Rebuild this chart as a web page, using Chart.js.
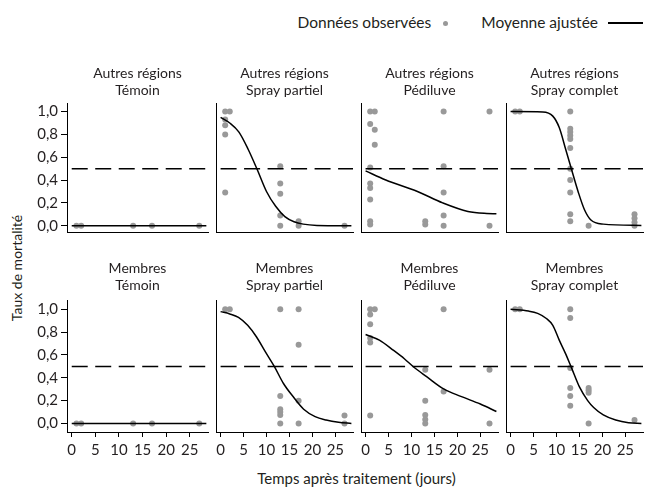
<!DOCTYPE html>
<html lang="fr">
<head>
<meta charset="utf-8">
<title>Taux de mortalité</title>
<script src="https://cdn.jsdelivr.net/npm/chart.js@4.4.1/dist/chart.umd.min.js"></script>
<style>
  html, body { margin: 0; padding: 0; background: #fff; }
  body {
    position: relative;
    width: 646px;
    height: 489px;
    overflow: hidden;
    font-family: Lato, "Open Sans", sans-serif;
    color: #231f20;
  }
  canvas { position: absolute; }
  .legend {
    position: absolute;
    top: 13px;
    right: 3px;
    display: flex;
    align-items: center;
    font-size: 15.5px;
    line-height: 18px;
  }
  .legend .dot { width: 5px; height: 5px; border-radius: 50%; background: #999; margin: 3px 33px 0 12px; }
  .legend .line { width: 35px; height: 1.5px; background: #000; margin: 2px 0 0 10px; }
  .axis-title { position: absolute; line-height: 18px; white-space: nowrap; }
  #xTitle { left: 67px; width: 579px; top: 469px; text-align: center; font-size: 15px; }
  #yTitle { left: 17px; top: 268px; transform: translate(-50%, -50%) rotate(-90deg); font-size: 14px; }
</style>
</head>
<body>
<div class="legend">
  <span>Données observées</span><span class="dot"></span>
  <span>Moyenne ajustée</span><span class="line"></span>
</div>
<div class="axis-title" id="yTitle">Taux de mortalité</div>
<div class="axis-title" id="xTitle">Temps après traitement (jours)</div>

<script>
// Facets
const groups = ['Autres régions', 'Membres'];
const treatments = ['Témoin', 'Spray partiel', 'Pédiluve', 'Spray complet'];

// Tick values
const xTicks = [0, 5, 10, 15, 20, 25];
const yTicks = [0, 0.2, 0.4, 0.6, 0.8, 1.0];
const threshold = 0.5;

// Observed mortality, [day, rate]
const obsAutresTemoin = [[1, 0], [2, 0], [13, 0], [17, 0], [27, 0]];
const obsAutresSprayPartiel = [[1, 1], [2, 1], [1, 0.93], [1, 0.88], [1, 0.8], [1, 0.29],
  [13, 0.52], [13, 0.37], [13, 0.28], [13, 0.09], [13, 0], [17, 0.04], [17, 0], [27, 0]];
const obsAutresPediluve = [[1, 1], [2, 1], [1, 0.89], [2, 0.84], [2, 0.71], [1, 0.51], [1, 0.37],
  [1, 0.33], [1, 0.23], [1, 0.04], [1, 0.01], [13, 0.04], [13, 0.01],
  [17, 1], [17, 0.52], [17, 0.29], [17, 0.09], [17, 0], [27, 1], [27, 0]];
const obsAutresSprayComplet = [[1, 1], [2, 1], [13, 1], [13, 0.85], [13, 0.82], [13, 0.79], [13, 0.76],
  [13, 0.68], [13, 0.5], [13, 0.4], [13, 0.29], [13, 0.1], [13, 0.04], [17, 0],
  [27, 0.1], [27, 0.065], [27, 0.03], [27, 0]];
const obsMembresTemoin = [[1, 0], [2, 0], [13, 0], [17, 0], [27, 0]];
const obsMembresSprayPartiel = [[1, 1], [2, 1], [13, 1], [17, 1], [17, 0.69], [13, 0.24], [13, 0.125],
  [13, 0.1], [13, 0.075], [13, 0], [17, 0.2], [17, 0], [27, 0.07], [27, 0]];
const obsMembresPediluve = [[1, 1], [2, 1], [1, 0.955], [1, 0.87], [1, 0.75], [1, 0.71], [1, 0.07],
  [13, 0.47], [13, 0.2], [13, 0.075], [13, 0.035], [13, 0], [17, 1], [17, 0.28], [27, 0.47], [27, 0]];
const obsMembresSprayComplet = [[1, 1], [2, 1], [13, 1], [13, 0.925], [13, 0.485], [13, 0.31], [13, 0.24],
  [13, 0.155], [17, 0.31], [17, 0.29], [17, 0.27], [17, 0], [27, 0.03]];

// Fitted mean curves, [day, rate]
const fitAutresTemoin = [[0, 0], [28.5, 0]];
const fitAutresSprayPartiel = [[0, 0.95], [2, 0.9], [4, 0.82], [6, 0.67], [8, 0.49], [10, 0.3],
  [12, 0.17], [14, 0.08], [16, 0.035], [18, 0.014], [21, 0.003], [28.5, 0]];
const fitAutresPediluve = [[0, 0.48], [4.4, 0.4], [11.3, 0.3], [16.8, 0.2], [22.3, 0.125],
  [26.4, 0.107], [28.5, 0.105]];
const fitAutresSprayComplet = [[0, 1], [7, 0.997], [9.2, 0.96], [10.6, 0.86], [12, 0.67], [13.3, 0.49],
  [14.7, 0.3], [16.1, 0.14], [17.5, 0.05], [20.2, 0.014], [28.5, 0.003]];
const fitMembresTemoin = [[0, 0], [28.5, 0]];
const fitMembresSprayPartiel = [[0, 0.98], [2, 0.96], [3.9, 0.93], [5.9, 0.86], [7.8, 0.76], [9.8, 0.625],
  [11.7, 0.5], [13.7, 0.35], [15.7, 0.24], [18.1, 0.125], [20.6, 0.06], [23, 0.03], [25.7, 0.01], [28.5, 0]];
const fitMembresPediluve = [[0, 0.78], [3, 0.73], [6.1, 0.64], [8.5, 0.565], [10.6, 0.49], [13.3, 0.41],
  [17.1, 0.3], [20.9, 0.235], [25, 0.17], [28.5, 0.105]];
const fitMembresSprayComplet = [[0, 1], [3.9, 0.985], [5.9, 0.965], [7.8, 0.92], [9.2, 0.86], [10.6, 0.73],
  [12, 0.61], [13.3, 0.485], [15, 0.32], [16.8, 0.2], [18.1, 0.14], [20.2, 0.075], [22.9, 0.03],
  [25.7, 0.006], [28.5, 0]];

const observed = [
  [obsAutresTemoin, obsAutresSprayPartiel, obsAutresPediluve, obsAutresSprayComplet],
  [obsMembresTemoin, obsMembresSprayPartiel, obsMembresPediluve, obsMembresSprayComplet]
];
const fitted = [
  [fitAutresTemoin, fitAutresSprayPartiel, fitAutresPediluve, fitAutresSprayComplet],
  [fitMembresTemoin, fitMembresSprayPartiel, fitMembresPediluve, fitMembresSprayComplet]
];

// Layout
const FONT = 'Lato, "Open Sans", sans-serif';
const TEXT = '#231f20';
const X_MIN = -1, X_MAX = 28.85, Y_MAX = 1.075;
const AREA_LEFTS = [67, 212, 357, 502];
const AREA_W = 145, AXIS_W = 37;
const rowLayout = [
  { top: 65, height: 177, yMin: -0.055, titleGap: 4.4, xAxisH: 10 },
  { top: 260, height: 202, yMin: -0.075, titleGap: 7.2, xAxisH: 30 }
];

const toPoints = arr => arr.map(([x, y]) => ({ x, y }));

function makePanel(row, col) {
  const lay = rowLayout[row];
  const firstCol = col === 0;
  const bottomRow = row === groups.length - 1;

  const canvas = document.createElement('canvas');
  canvas.width = AREA_W + (firstCol ? AXIS_W : 0);
  canvas.height = lay.height;
  canvas.style.left = (AREA_LEFTS[col] - (firstCol ? AXIS_W : 0)) + 'px';
  canvas.style.top = lay.top + 'px';
  document.body.appendChild(canvas);

  new Chart(canvas, {
    type: 'scatter',
    data: {
      datasets: [
        {
          label: 'Moyenne ajustée',
          type: 'line',
          data: toPoints(fitted[row][col]),
          borderColor: '#000',
          borderWidth: 1.5,
          pointRadius: 0,
          cubicInterpolationMode: 'monotone'
        },
        {
          label: 'Seuil',
          type: 'line',
          data: [{ x: 0, y: threshold }, { x: X_MAX, y: threshold }],
          borderColor: '#000',
          borderWidth: 1.5,
          borderDash: [16, 7.5],
          pointRadius: 0
        },
        {
          label: 'Données observées',
          data: toPoints(observed[row][col]),
          backgroundColor: '#999',
          borderWidth: 0,
          pointRadius: 3
        }
      ]
    },
    options: {
      responsive: false,
      animation: false,
      events: [],
      layout: { padding: 0 },
      plugins: {
        legend: { display: false },
        tooltip: { enabled: false },
        title: {
          display: true,
          text: [groups[row], treatments[col]],
          fullSize: false,
          color: TEXT,
          font: { family: FONT, size: 14, weight: 'normal', lineHeight: 1.2 },
          padding: { top: 0, bottom: lay.titleGap }
        }
      },
      scales: {
        x: {
          type: 'linear',
          min: X_MIN,
          max: X_MAX,
          afterBuildTicks: s => { s.ticks = xTicks.map(v => ({ value: v })); },
          afterFit: s => {
            s.height = lay.xAxisH;
            s.paddingLeft = s.paddingRight = 0;
          },
          border: { display: true, color: '#000', width: 1 },
          grid: { display: bottomRow, drawOnChartArea: false, drawTicks: true, tickLength: 5, color: '#000' },
          ticks: {
            display: bottomRow, padding: 4, color: TEXT, maxRotation: 0, autoSkip: false,
            font: { family: FONT, size: 15 }
          }
        },
        y: {
          min: lay.yMin,
          max: Y_MAX,
          afterBuildTicks: s => { s.ticks = yTicks.map(v => ({ value: v })); },
          afterFit: s => {
            s.width = firstCol ? AXIS_W : 0;
            // keep every panel's plot area the same size
            s.paddingTop = s.paddingBottom = 0;
          },
          border: { display: true, color: '#000', width: 1 },
          grid: { display: firstCol, drawOnChartArea: false, drawTicks: true, tickLength: 6, color: '#000' },
          ticks: {
            display: firstCol, padding: 3, color: TEXT, autoSkip: false,
            font: { family: FONT, size: 15 },
            callback: v => v.toFixed(1).replace('.', ',')
          }
        }
      }
    }
  });
}

groups.forEach((g, row) => {
  treatments.forEach((t, col) => makePanel(row, col));
});
</script>
</body>
</html>
